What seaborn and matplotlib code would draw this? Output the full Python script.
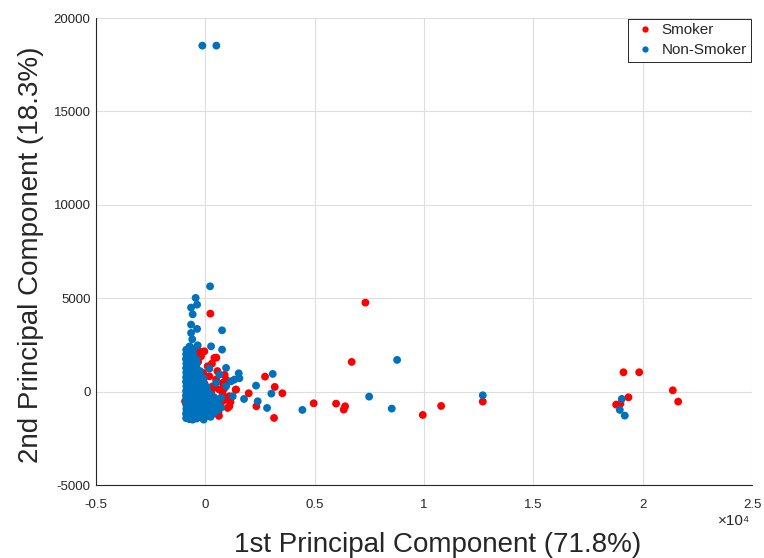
import pandas as pd
import seaborn as sns
import matplotlib.pyplot as plt
from matplotlib.ticker import FuncFormatter

# PCA scores (PC1, PC2)
smoker_x = [7319, 6693, 4955, 5978, 6390, 6327, 9943, 10782, 12687, 19122, 19840, 21377,
            21624, 19350, 18787, 18984, 3141, 3522, 3173, 2729, 2333, 1982, 1388,
            229, -46, -275, 412, 503, -197, -425, 105, 947, 791, 640, 791, 947, 1098, 1020,
            1404, 0, -929, 183, 490, 335, 718, 412, 260, 1098, 550, 300, -100, 100, 600,
            -800, 850, 1150, -50, 400, 620, 330, -330, 880]
smoker_y = [4764, 1590, -626, -642, -787, -963, -1249, -767, -535, 1035, 1035, 70,
            -535, -305, -696, -642, -1410, -88, 250, 803, -785, -88, 107,
            4176, 2157, 2157, 1804, 1820, 1890, 1980, 1354, 642, 466, 107, -160, -428, -787, -873,
            107, -1322, -518, 820, 642, 284, -607, -428, -70, -250, 1100, 1500, 1000, -900, -1100,
            -1200, 150, -550, 450, 200, -1300, -1200, 1600, 900]

nonsmoker_x = [-137, 503, 8769, 7489, 4437, 8524, 12687, 19045, 18954, 19182, 3081, 3019,
               2821, 2394, 1769, 2317, 1525, 1555, 1327, 947, 763, 763,
               215, -444, -380, -654, -580, -654, -380, -654, -600, 260, -350, 1175, 947, 1250,
               260, -78, -580, 183, 640, 490,
               # dense block
               -880, -885, -870, -880, -875, -890, -880, -870, -885, -880, -875, -880, -870, -885, -880, -875,
               -720, -730, -715, -720, -725, -710, -720, -730, -715, -720, -725, -720, -710, -730, -720, -715, -720,
               -560, -570, -550, -560, -565, -555, -560, -570, -550, -560, -565, -560, -550, -570, -560, -555,
               -400, -410, -395, -400, -405, -390, -400, -410, -395, -400, -405, -400, -390, -410,
               -240, -250, -235, -240, -245, -230, -240, -250, -235, -240, -245,
               -80, -90, -75, -80, -85, -70, -80, -90, -75,
               80, 70, 85, 80, 75, 90, 80,
               240, 250, 235, 240, 245,
               400, 410, 395, 400,
               560, 570, 550,
               720, 730]
nonsmoker_y = [18522, 18522, 1697, -268, -980, -910, -196, -391, -980, -1285, 948, -107,
               -874, -518, -393, 321, 980, 713, 642, 1269, 2248, 3282,
               5637, 5016, 4657, 4497, 4138, 3587, 3357, 3140, 2800, 2425, 2478, 551, 284, -250,
               -1054, -1499, -1499, 1231, 910, 466,
               -1420, -1180, -930, -690, -440, -210, 40, 290, 530, 770, 1020, 1260, 1510, 1750, 2000, 2240,
               -1480, -1250, -1010, -760, -520, -280, -30, 210, 460, 700, 950, 1190, 1440, 1680, 1930, 2170, 2420,
               -1390, -1130, -880, -640, -390, -150, 90, 340, 580, 830, 1070, 1320, 1560, 1810, 2060, 2310,
               -1440, -1200, -960, -710, -470, -230, 20, 260, 510, 750, 1000, 1240, 1490, 1730,
               -1360, -1110, -870, -620, -380, -140, 110, 350, 600, 840, 1100,
               -1290, -1040, -800, -550, -310, -60, 180, 420, 690,
               -1220, -970, -730, -480, -240, 10, 250,
               -1350, -900, -640, -390, -150,
               -1150, -820, -560, -300,
               -1000, -700, -420,
               -850, -330]

groups = ['Smoker', 'Non-Smoker']
colors = ['#ff0000', '#0072bd']
x_ticks = [-5000, 0, 5000, 10000, 15000, 20000, 25000]
y_ticks = [-5000, 0, 5000, 10000, 15000, 20000]

df = pd.concat([
    pd.DataFrame({'pc1': smoker_x, 'pc2': smoker_y, 'group': groups[0]}),
    pd.DataFrame({'pc1': nonsmoker_x, 'pc2': nonsmoker_y, 'group': groups[1]}),
], ignore_index=True)

sns.set_theme(style='whitegrid')
plt.rcParams['font.family'] = ['Liberation Sans', 'DejaVu Sans']

fig = plt.figure(figsize=(7.64, 5.58), dpi=100)
ax = fig.add_axes([0.1257, 0.1308, 0.8586, 0.8369])

sns.scatterplot(data=df, x='pc1', y='pc2', hue='group', hue_order=groups,
                palette=colors, s=32, linewidth=0, ax=ax)

ax.set_xlim(-5000, 25000)
ax.set_ylim(-5000, 20000)
ax.set_xticks(x_ticks)
ax.set_yticks(y_ticks)
ax.xaxis.set_major_formatter(FuncFormatter(lambda v, p: '%g' % (v / 1e4)))
ax.yaxis.set_major_formatter(FuncFormatter(lambda v, p: '%d' % v))
ax.tick_params(direction='in', length=4, width=0.7, colors='#262626',
               labelsize=9.5, pad=4)
ax.tick_params(axis='x', pad=10)

ax.grid(True, color='#dedede', linewidth=0.8)
for side in ['top', 'right']:
    ax.spines[side].set_visible(False)
for side in ['left', 'bottom']:
    ax.spines[side].set_color('#262626')
    ax.spines[side].set_linewidth(0.8)

ax.set_xlabel('1st Principal Component (71.8%)', fontsize=20, color='#262626')
ax.set_ylabel('2nd Principal Component (18.3%)', fontsize=20, color='#262626')
ax.xaxis.set_label_coords(0.521, -0.1)
ax.yaxis.set_label_coords(-0.079, 0.4925)
ax.text(0.997, -0.063, '\u00d710\u2074', transform=ax.transAxes, ha='right', va='top',
        fontsize=11, color='#262626')

leg = ax.legend(loc='upper right', fontsize=11, markerscale=0.8, frameon=True,
                fancybox=False, framealpha=1, edgecolor='#262626',
                borderaxespad=0.05, handletextpad=0.3, handlelength=1.6,
                borderpad=0.3, labelspacing=0.4)
leg.get_frame().set_linewidth(0.7)

fig.savefig('out.png', dpi=100)
